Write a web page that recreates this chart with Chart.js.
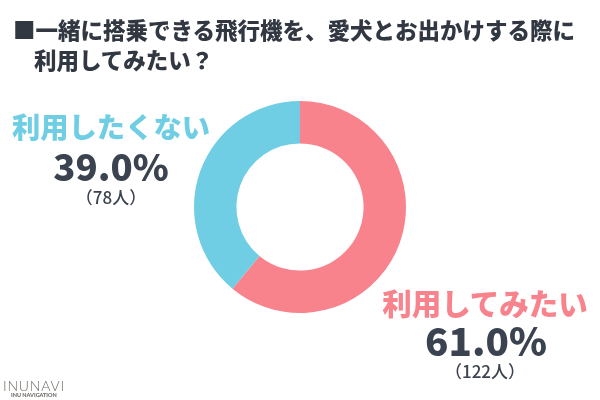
<!DOCTYPE html>
<html>
<head>
<meta charset="utf-8">
<script src="https://cdn.jsdelivr.net/npm/chart.js@4"></script>
<style>
  html, body { margin: 0; padding: 0; background: #fff; }
  #wrap { position: relative; width: 600px; height: 400px; overflow: hidden; font-family: "Noto Sans CJK JP", sans-serif; color: #3b4350; }
  #wrap div { position: absolute; white-space: nowrap; line-height: 1; }
  .cat { font-weight: 900; transform: translateX(-50%); }
  .pct { font-weight: 900; transform: translateX(-50%); }
  .cnt { font-weight: 500; font-size: 17px; transform: translateX(-50%); }
  .ttl { font-size: 22.5px; font-weight: 900; color: #323842; }
</style>
</head>
<body>
<div id="wrap">
  <canvas id="donut" width="600" height="400" style="position:absolute;left:0;top:0"></canvas>
  <div class="ttl" style="left:13px;top:18px">■一緒に搭乗できる飛行機を、愛犬とお出かけする際に</div>
  <div class="ttl" style="left:34px;top:48px">利用してみたい？</div>
  <div id="cat0" class="cat" style="left:485px;top:288px;font-size:29.5px"></div>
  <div id="pct0" class="pct" style="left:486px;top:320px;font-size:38.5px"></div>
  <div id="cnt0" class="cnt" style="left:485px;top:362px"></div>
  <div id="cat1" class="cat" style="left:111px;top:112px;font-size:28.3px"></div>
  <div id="pct1" class="pct" style="left:111px;top:148px;font-size:36.5px"></div>
  <div id="cnt1" class="cnt" style="left:111px;top:188px"></div>
  <div style="left:3px;top:379px;font-family:Lato,sans-serif;font-weight:300;font-size:14px;letter-spacing:0.8px;color:#6f6a66">INUNAVI</div>
  <div style="left:11px;top:393px;font-family:Lato,sans-serif;font-weight:900;font-size:5.5px;color:#6f6a66">INU NAVIGATION</div>
</div>
<script>
const categories = ['利用してみたい', '利用したくない'];
const percents = [61.0, 39.0];
const counts = [122, 78];
const colors = ['#f8838d', '#6fcee4'];

categories.forEach(function (name, i) {
    const cat = document.getElementById('cat' + i);
    cat.textContent = name;
    cat.style.color = colors[i];
    document.getElementById('pct' + i).textContent = percents[i].toFixed(1) + '%';
    document.getElementById('cnt' + i).textContent = '（' + counts[i] + '人）';
});

new Chart(document.getElementById('donut'), {
    type: 'doughnut',
    data: {
        labels: categories,
        datasets: [{
            data: percents,
            backgroundColor: colors,
            borderWidth: 0,
        }],
    },
    options: {
        responsive: false,
        animation: false,
        cutout: '60%',
        layout: {
            padding: { top: 101, bottom: 87 },
        },
        plugins: {
            legend: { display: false },
            tooltip: { enabled: false },
        },
    },
});
</script>
</body>
</html>
